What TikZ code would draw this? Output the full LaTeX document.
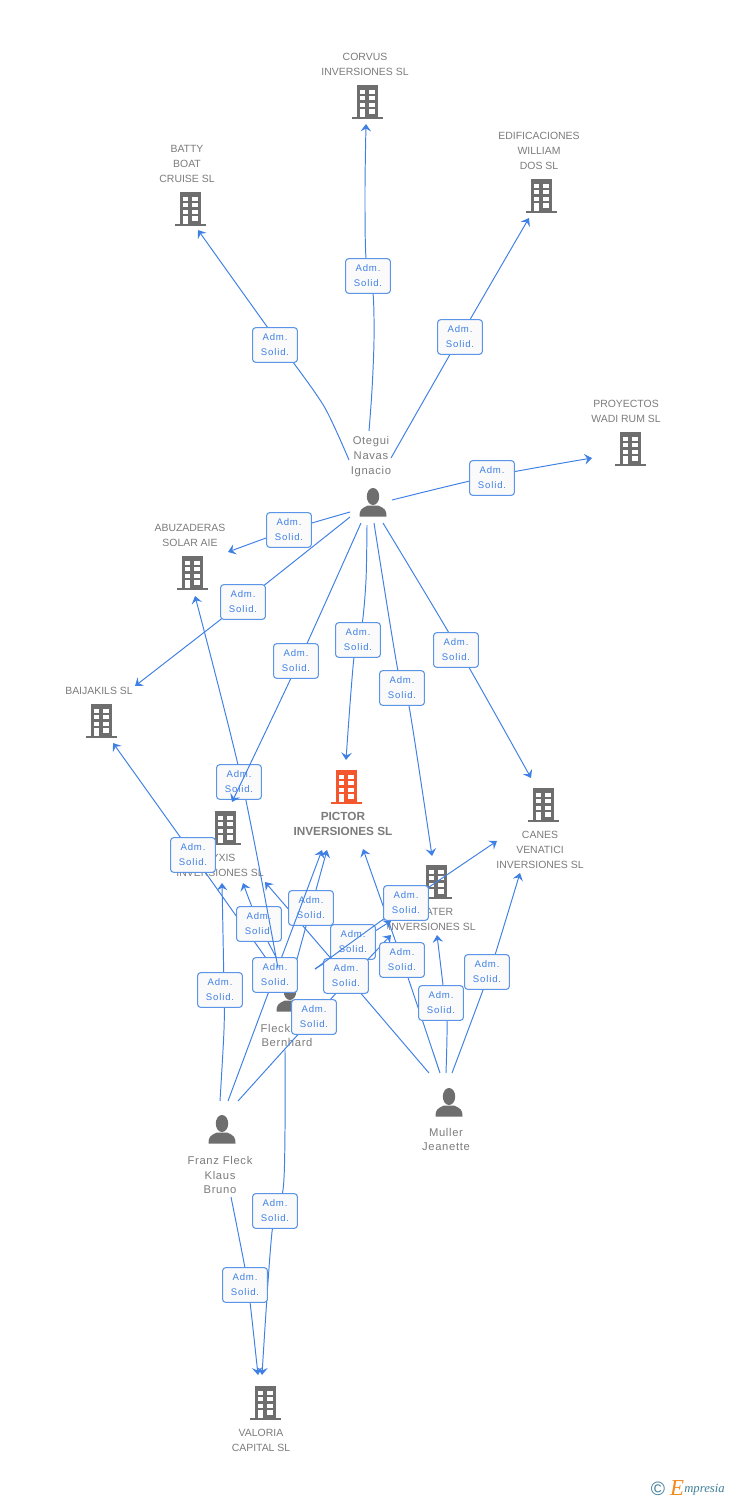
\documentclass[tikz,border=0pt]{standalone}
\usepackage{fontspec}
\usepackage{xcolor}
\setmainfont{Liberation Sans}
\newfontfamily\personfont[LetterSpace=6]{Liberation Sans}
\newfontfamily\admfont[LetterSpace=9]{Liberation Sans}
\newfontfamily\logofont{Liberation Serif}
\usetikzlibrary{arrows.meta}
\definecolor{iconcol}{HTML}{6E6E6E}
\definecolor{maincol}{HTML}{F4572E}
\definecolor{namecol}{HTML}{7C7C7C}
\definecolor{linkcol}{HTML}{3F80E5}
\definecolor{boxcol}{HTML}{5B95E8}
\definecolor{logoteal}{HTML}{3F7F9A}
\definecolor{logoorange}{HTML}{F28A1C}
\tikzset{
  hub/.style={inner sep=0pt, minimum size=0pt},
  firm/.style={text=namecol, align=center, inner sep=0pt, font=\fontsize{5.95}{8.5}\selectfont},
  mainfirm/.style={firm, font=\bfseries\fontsize{6.7}{8.5}\selectfont},
  person/.style={text=namecol, align=center, inner sep=0pt, font=\personfont\fontsize{6.4}{8.5}\selectfont},
  adm/.style={draw=boxcol, line width=0.6pt, fill=black!2, rounded corners=1.7pt, text=linkcol,
    align=center, inner sep=0pt, minimum width=25.5pt, minimum height=19.7pt,
    font=\admfont\fontsize{5.45}{8.5}\selectfont},
  link/.style={draw=linkcol, line width=0.55pt, -{Stealth[length=4.2pt,width=6pt,inset=1.6pt]}},
  pics/building/.style={code={
    \fill[#1] (-10.5,-17) rectangle (10.5,15);
    \fill[#1] (-15.5,15) rectangle (15.5,17);
    \foreach \wy in {-11.7,-5.7,0.6} {
      \fill[white] (-6.7,\wy) rectangle (-2,\wy+4);
      \fill[white] (2.3,\wy) rectangle (7.7,\wy+4);
    }
    \fill[white] (-6.7,7.3) rectangle (-2,15);    % door
    \fill[white] (2.3,7.3) rectangle (7.7,11.7);
  }},
  pics/bust/.style={code={
    \fill[iconcol] (0,-6.5) ellipse (6.2 and 8.5);
    \fill[iconcol] (-13.5,13.5) .. controls (-13.5,7) and (-12,5.5) .. (-5,2.5)
      -- (5,2.5) .. controls (12,5.5) and (13.5,7) .. (13.5,13.5) -- cycle;
  }}
}
\begin{document}
\begin{tikzpicture}[x=0.02cm, y=-0.02cm]
    \useasboundingbox (0,0) rectangle (728,1500);
    \fill[white] (0,0) rectangle (728,1500);

    % Firms: icon, then name
    \foreach \nm/\x/\y/\tx/\ty/\txt in {
        corvus/367/102/365/64.5/{CORVUS\\INVERSIONES SL},
        batty/190/209/187/164/{BATTY\\BOAT\\CRUISE SL},
        edif/541/196/539/151/{EDIFICACIONES\\WILLIAM\\DOS SL},
        proyectos/630/449/626/411.5/{PROYECTOS\\WADI RUM SL},
        abuz/192/573/190/535.5/{ABUZADERAS\\SOLAR AIE},
        baij/101/721/99/691/{BAIJAKILS SL},
        pyxis/225/828/220/865.5/{PYXIS\\INVERSIONES SL},
        crater/436/882/432/919.5/{CRATER\\INVERSIONES SL},
        canes/543/805/540/850/{CANES\\VENATICI\\INVERSIONES SL},
        valoria/265/1403/261/1440.5/{VALORIA\\CAPITAL SL}} {
        \pic at (\x,\y) {building=iconcol};
        \node[hub] (\nm) at (\x,\y) {};
        \node[firm] (\nm-name) at (\tx,\ty) {\txt};
    }
    \pic at (346,787) {building=maincol};
    \node[hub] (pictor) at (346,787) {};
    \node[mainfirm] (pictor-name) at (343,823.5) {PICTOR\\INVERSIONES SL};

    % People: icon, then name
    \foreach \nm/\x/\y/\tx/\ty/\txt in {
        otegui/373/503/371/457/{Otegui\\Navas\\Ignacio},
        fleck/290/998/287/1035.5/{Fleck Jan\\Bernhard},
        franz/222/1130/220/1175/{Franz Fleck\\Klaus\\Bruno},
        muller/449/1103/446/1139.5/{Muller\\Jeanette}} {
        \pic at (\x,\y) {bust};
        \node[hub] (\nm) at (\x,\y) {};
        \node[person] (\nm-name) at (\tx,\ty) {\txt};
    }

    % Links: from person to firm, through the way points, box on top
    \foreach \src/\sx/\sy/\dst/\ex/\ey/\lx/\ly/\via in {
        fleck/25/-29/crater/-45/39/353/942/{(353,945)},
        franz/16/-29/crater/-45/53/314/1017/{(314,1017)},
        muller/-20/-30/pyxis/40/54/346/976/{(346,976)},
        muller/-9/-30/pictor/17/62/402/960/{(402,960)},
        fleck/25/-29/canes/-46/36/406/903/{(406,903)},
        fleck/-17/-30/baij/12/22/193/855/{(193,855)},
        fleck/-7/-28/pyxis/18/55/259/924/{(259,924)},
        fleck/4/-28/pictor/-19/63/311/908/{(311,908)},
        franz/6/-29/pictor/-24/63/275/975/{(275,975)},
        fleck/-12/-30/abuz/3/23/239/782/{(242,782)},
        franz/-2/-29/pyxis/-3/55/220/990/{(224,1030) (224,990)},
        muller/-3/-30/crater/1/53/441/1003/{(447,1021) (443,985)},
        muller/3/-30/canes/-23/68/487/972/{(483,990) (495,955)},
        fleck/-5/52/valoria/-3/-28/275/1211/{(285,1130) (283,1190) (272,1232)},
        franz/9/67/valoria/-7/-28/245/1285/{(245,1268) (250,1302)},
        otegui/-24/-43/batty/8/21/275/345/{(325,408) (293,362) (268,328)},
        otegui/-4/-72/corvus/-1/22/368/276/{(372,390) (374,340) (373,293) (366,258) (365,190)},
        otegui/18/-45/edif/-12/22/460/337/{(460,337)},
        otegui/19/-3/proyectos/-38/9/492/478/{(492,476)},
        otegui/-23/9/abuz/36/-21/289/530/{(289,530)},
        otegui/-23/14/baij/34/-35/243/602/{(243,602)},
        otegui/-12/20/pyxis/7/-26/296/661/{(299,661)},
        otegui/-6/22/pictor/0/-27/358/640/{(366,580) (362,625) (354,657)},
        otegui/1/20/crater/-4/-26/402/688/{(398,671) (409,706)},
        otegui/10/20/canes/-12/-27/456/650/{(459,650)}} {
        \coordinate (\src-\dst-out) at ([shift={(\sx,\sy)}]\src.center);
        \coordinate (\src-\dst-in) at ([shift={(\ex,\ey)}]\dst.center);
        \edef\linkcmd{\noexpand\draw[link] plot[smooth, tension=0.5] coordinates {(\src-\dst-out) \via\space (\src-\dst-in)};}
        \linkcmd
        \node[adm] (\src-\dst-box) at (\lx,\ly) {Adm.\\Solid.};
    }

    % Logo
    \node[hub, text=logoteal, font=\fontsize{11}{11}\selectfont] (copyright) at (658,1489) {©};
    \node[hub, text=logoorange, font=\logofont\itshape\fontsize{13}{13}\selectfont] (logo-e) at (677,1488) {E};
    \node[hub, text=logoteal, font=\logofont\itshape\fontsize{7.2}{7.2}\selectfont, anchor=west] (logo) at (684,1490) {mpresia};
\end{tikzpicture}
\end{document}
